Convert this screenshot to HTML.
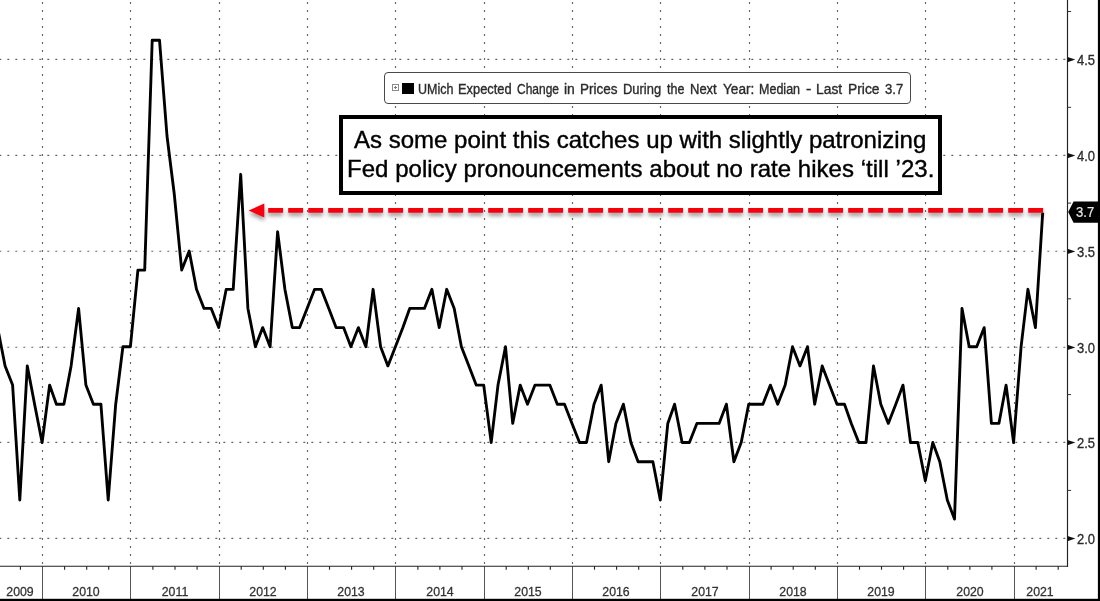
<!DOCTYPE html>
<html><head><meta charset="utf-8"><title>chart</title>
<style>
html,body{margin:0;padding:0;background:#fff;}
body{width:1100px;height:601px;position:relative;overflow:hidden;font-family:"Liberation Sans",sans-serif;}
.g{stroke:#666;stroke-width:1.15;stroke-dasharray:2,6;}
.xl{position:absolute;top:583.6px;width:60px;text-align:center;font-size:13.7px;color:#333;-webkit-text-stroke:0.3px #333;line-height:16px;transform:scaleX(0.9);}
.yl{position:absolute;left:1077px;font-size:14px;color:#2a2a2a;-webkit-text-stroke:0.3px #2a2a2a;line-height:16px;transform:scaleX(0.93);transform-origin:0 50%;}
#legend{position:absolute;left:384px;top:72px;width:527px;height:32px;border:1px solid #4a4a4a;border-radius:4px;background:#fff;box-sizing:border-box;}
#legend .t{position:absolute;left:33.2px;top:7px;font-size:13px;line-height:16px;color:#333;white-space:nowrap;transform-origin:0 50%;transform:scaleX(1.0487);}
#legend .w{position:absolute;top:9.2px;font-size:13.8px;line-height:16px;color:#2b2b2b;-webkit-text-stroke:0.35px #2b2b2b;white-space:nowrap;transform-origin:0 50%;}
#legend .sq{position:absolute;left:17.1px;top:9.6px;width:11.8px;height:11.4px;background:#000;}
#legend .pl{position:absolute;left:7.3px;top:11.4px;width:4.6px;height:4.6px;border:1px solid #8a8a8a;}
#legend .pl:before{content:"";position:absolute;left:0.8px;top:1.8px;width:3px;height:1px;background:#777;}
#legend .pl:after{content:"";position:absolute;left:1.8px;top:0.8px;width:1px;height:3px;background:#777;}
#ann{position:absolute;left:339.3px;top:114.9px;width:602.5px;height:79.7px;border:4.6px solid #000;box-sizing:border-box;background:#fff;}
#ann div{position:absolute;white-space:nowrap;will-change:transform;-webkit-text-stroke:0.4px #000;font-size:24px;line-height:28px;color:#000;}
#last{position:absolute;left:1076.2px;top:203.8px;font-size:14px;line-height:17px;color:#e6e6e6;-webkit-text-stroke:0.2px #e6e6e6;transform:scaleX(0.935);transform-origin:0 50%;}
</style></head><body>
<svg width="1100" height="601" viewBox="0 0 1100 601" style="position:absolute;left:0;top:0">
<defs><filter id="sh" x="-5%" y="-100%" width="110%" height="400%"><feGaussianBlur in="SourceAlpha" stdDeviation="1.9"/><feOffset dx="0.4" dy="3" result="b"/><feComponentTransfer><feFuncA type="linear" slope="0.42"/></feComponentTransfer><feMerge><feMergeNode/><feMergeNode in="SourceGraphic"/></feMerge></filter></defs>
<line x1="42.5" y1="2" x2="42.5" y2="566.2" class="g"/>
<line x1="130.5" y1="2" x2="130.5" y2="566.2" class="g"/>
<line x1="219.5" y1="2" x2="219.5" y2="566.2" class="g"/>
<line x1="307.5" y1="2" x2="307.5" y2="566.2" class="g"/>
<line x1="395.5" y1="2" x2="395.5" y2="566.2" class="g"/>
<line x1="484.5" y1="2" x2="484.5" y2="566.2" class="g"/>
<line x1="572.5" y1="2" x2="572.5" y2="566.2" class="g"/>
<line x1="660.5" y1="2" x2="660.5" y2="566.2" class="g"/>
<line x1="749.5" y1="2" x2="749.5" y2="566.2" class="g"/>
<line x1="837.5" y1="2" x2="837.5" y2="566.2" class="g"/>
<line x1="925.5" y1="2" x2="925.5" y2="566.2" class="g"/>
<line x1="1014.5" y1="2" x2="1014.5" y2="566.2" class="g"/>
<line x1="-0.7" y1="538.4" x2="1067.5" y2="538.4" class="g"/>
<line x1="-0.7" y1="442.4" x2="1067.5" y2="442.4" class="g"/>
<line x1="-0.7" y1="347.2" x2="1067.5" y2="347.2" class="g"/>
<line x1="-0.7" y1="251.2" x2="1067.5" y2="251.2" class="g"/>
<line x1="-0.7" y1="155.4" x2="1067.5" y2="155.4" class="g"/>
<line x1="-0.7" y1="59.4" x2="1067.5" y2="59.4" class="g"/>
<line x1="42.5" y1="566.2" x2="42.5" y2="599" stroke="#555" stroke-width="1"/>
<line x1="130.5" y1="566.2" x2="130.5" y2="599" stroke="#555" stroke-width="1"/>
<line x1="219.5" y1="566.2" x2="219.5" y2="599" stroke="#555" stroke-width="1"/>
<line x1="307.5" y1="566.2" x2="307.5" y2="599" stroke="#555" stroke-width="1"/>
<line x1="395.5" y1="566.2" x2="395.5" y2="599" stroke="#555" stroke-width="1"/>
<line x1="484.5" y1="566.2" x2="484.5" y2="599" stroke="#555" stroke-width="1"/>
<line x1="572.5" y1="566.2" x2="572.5" y2="599" stroke="#555" stroke-width="1"/>
<line x1="660.5" y1="566.2" x2="660.5" y2="599" stroke="#555" stroke-width="1"/>
<line x1="749.5" y1="566.2" x2="749.5" y2="599" stroke="#555" stroke-width="1"/>
<line x1="837.5" y1="566.2" x2="837.5" y2="599" stroke="#555" stroke-width="1"/>
<line x1="925.5" y1="566.2" x2="925.5" y2="599" stroke="#555" stroke-width="1"/>
<line x1="1014.5" y1="566.2" x2="1014.5" y2="599" stroke="#555" stroke-width="1"/>
<line x1="1067.5" y1="0" x2="1067.5" y2="566.75" stroke="#222" stroke-width="1.15"/>
<line x1="0" y1="566.2" x2="1068.05" y2="566.2" stroke="#222" stroke-width="1.15"/>
<line x1="20.4" y1="566.2" x2="20.4" y2="569.7" stroke="#222" stroke-width="1.1"/>
<line x1="64.6" y1="566.2" x2="64.6" y2="569.7" stroke="#222" stroke-width="1.1"/>
<line x1="86.7" y1="566.2" x2="86.7" y2="569.7" stroke="#222" stroke-width="1.1"/>
<line x1="108.7" y1="566.2" x2="108.7" y2="569.7" stroke="#222" stroke-width="1.1"/>
<line x1="152.9" y1="566.2" x2="152.9" y2="569.7" stroke="#222" stroke-width="1.1"/>
<line x1="175.0" y1="566.2" x2="175.0" y2="569.7" stroke="#222" stroke-width="1.1"/>
<line x1="197.1" y1="566.2" x2="197.1" y2="569.7" stroke="#222" stroke-width="1.1"/>
<line x1="241.2" y1="566.2" x2="241.2" y2="569.7" stroke="#222" stroke-width="1.1"/>
<line x1="263.3" y1="566.2" x2="263.3" y2="569.7" stroke="#222" stroke-width="1.1"/>
<line x1="285.4" y1="566.2" x2="285.4" y2="569.7" stroke="#222" stroke-width="1.1"/>
<line x1="329.5" y1="566.2" x2="329.5" y2="569.7" stroke="#222" stroke-width="1.1"/>
<line x1="351.6" y1="566.2" x2="351.6" y2="569.7" stroke="#222" stroke-width="1.1"/>
<line x1="373.7" y1="566.2" x2="373.7" y2="569.7" stroke="#222" stroke-width="1.1"/>
<line x1="417.9" y1="566.2" x2="417.9" y2="569.7" stroke="#222" stroke-width="1.1"/>
<line x1="439.9" y1="566.2" x2="439.9" y2="569.7" stroke="#222" stroke-width="1.1"/>
<line x1="462.0" y1="566.2" x2="462.0" y2="569.7" stroke="#222" stroke-width="1.1"/>
<line x1="506.2" y1="566.2" x2="506.2" y2="569.7" stroke="#222" stroke-width="1.1"/>
<line x1="528.3" y1="566.2" x2="528.3" y2="569.7" stroke="#222" stroke-width="1.1"/>
<line x1="550.3" y1="566.2" x2="550.3" y2="569.7" stroke="#222" stroke-width="1.1"/>
<line x1="594.5" y1="566.2" x2="594.5" y2="569.7" stroke="#222" stroke-width="1.1"/>
<line x1="616.6" y1="566.2" x2="616.6" y2="569.7" stroke="#222" stroke-width="1.1"/>
<line x1="638.7" y1="566.2" x2="638.7" y2="569.7" stroke="#222" stroke-width="1.1"/>
<line x1="682.8" y1="566.2" x2="682.8" y2="569.7" stroke="#222" stroke-width="1.1"/>
<line x1="704.9" y1="566.2" x2="704.9" y2="569.7" stroke="#222" stroke-width="1.1"/>
<line x1="727.0" y1="566.2" x2="727.0" y2="569.7" stroke="#222" stroke-width="1.1"/>
<line x1="771.1" y1="566.2" x2="771.1" y2="569.7" stroke="#222" stroke-width="1.1"/>
<line x1="793.2" y1="566.2" x2="793.2" y2="569.7" stroke="#222" stroke-width="1.1"/>
<line x1="815.3" y1="566.2" x2="815.3" y2="569.7" stroke="#222" stroke-width="1.1"/>
<line x1="859.5" y1="566.2" x2="859.5" y2="569.7" stroke="#222" stroke-width="1.1"/>
<line x1="881.5" y1="566.2" x2="881.5" y2="569.7" stroke="#222" stroke-width="1.1"/>
<line x1="903.6" y1="566.2" x2="903.6" y2="569.7" stroke="#222" stroke-width="1.1"/>
<line x1="947.8" y1="566.2" x2="947.8" y2="569.7" stroke="#222" stroke-width="1.1"/>
<line x1="969.9" y1="566.2" x2="969.9" y2="569.7" stroke="#222" stroke-width="1.1"/>
<line x1="991.9" y1="566.2" x2="991.9" y2="569.7" stroke="#222" stroke-width="1.1"/>
<line x1="1036.1" y1="566.2" x2="1036.1" y2="569.7" stroke="#222" stroke-width="1.1"/>
<line x1="1058.2" y1="566.2" x2="1058.2" y2="569.7" stroke="#222" stroke-width="1.1"/>
<path d="M1067.5,536.0 L1075.3,538.6 L1067.5,541.2 Z" fill="#111"/>
<path d="M1067.5,440.0 L1075.3,442.6 L1067.5,445.2 Z" fill="#111"/>
<path d="M1067.5,344.8 L1075.3,347.4 L1067.5,350.0 Z" fill="#111"/>
<path d="M1067.5,248.8 L1075.3,251.4 L1067.5,254.0 Z" fill="#111"/>
<path d="M1067.5,153.0 L1075.3,155.6 L1067.5,158.2 Z" fill="#111"/>
<path d="M1067.5,57.0 L1075.3,59.6 L1067.5,62.2 Z" fill="#111"/>
<line x1="1067.5" y1="490.4" x2="1071.1" y2="490.4" stroke="#333" stroke-width="1"/>
<line x1="1067.5" y1="394.6" x2="1071.1" y2="394.6" stroke="#333" stroke-width="1"/>
<line x1="1067.5" y1="298.8" x2="1071.1" y2="298.8" stroke="#333" stroke-width="1"/>
<line x1="1067.5" y1="203.1" x2="1071.1" y2="203.1" stroke="#333" stroke-width="1"/>
<line x1="1067.5" y1="107.3" x2="1071.1" y2="107.3" stroke="#333" stroke-width="1"/>
<line x1="1067.5" y1="11.5" x2="1071.1" y2="11.5" stroke="#333" stroke-width="1"/>
<polyline points="-9.7,385.1 -2.4,327.6 5.1,365.9 12.6,385.1 19.8,500.0 27.3,365.9 34.6,404.2 42.1,442.5 49.6,385.1 56.4,404.2 63.9,404.2 71.1,365.9 78.6,308.4 85.9,385.1 93.4,404.2 100.9,404.2 108.2,500.0 115.7,404.2 122.9,346.7 130.4,346.7 137.9,270.1 144.7,270.1 152.2,40.2 159.5,40.2 167.0,136.0 174.2,193.5 181.7,270.1 189.2,251.0 196.5,289.3 204.0,308.4 211.2,308.4 218.7,327.6 226.2,289.3 233.2,289.3 240.7,174.3 247.9,308.4 255.4,346.7 262.7,327.6 270.1,346.7 277.6,231.8 284.9,289.3 292.3,327.6 299.6,327.6 307.1,308.4 314.6,289.3 321.3,289.3 328.8,308.4 336.1,327.6 343.6,327.6 350.9,346.7 358.4,327.6 365.9,346.7 373.1,289.3 380.6,346.7 387.9,365.9 395.4,346.7 402.9,327.6 409.7,308.4 417.2,308.4 424.4,308.4 431.9,289.3 439.2,327.6 446.7,289.3 454.2,308.4 461.4,346.7 468.9,365.9 476.2,385.1 483.7,385.1 491.2,442.5 498.0,385.1 505.5,346.7 512.7,423.4 520.2,385.1 527.5,404.2 535.0,385.1 542.5,385.1 549.8,385.1 557.3,404.2 564.5,404.2 572.0,423.4 579.5,442.5 586.5,442.5 594.0,404.2 601.2,385.1 608.7,461.7 615.9,423.4 623.4,404.2 630.9,442.5 638.1,461.7 645.6,461.7 652.9,461.7 660.3,500.0 667.8,423.4 674.6,404.2 682.1,442.5 689.4,442.5 696.9,423.4 704.1,423.4 711.6,423.4 719.1,423.4 726.4,404.2 733.9,461.7 741.2,442.5 748.7,404.2 756.2,404.2 762.9,404.2 770.4,385.1 777.7,404.2 785.2,385.1 792.5,346.7 800.0,365.9 807.5,346.7 814.7,404.2 822.2,365.9 829.5,385.1 837.0,404.2 844.5,404.2 851.3,423.4 858.8,442.5 866.0,442.5 873.5,365.9 880.8,404.2 888.3,423.4 895.8,404.2 903.0,385.1 910.5,442.5 917.8,442.5 925.3,480.8 932.8,442.5 939.8,461.7 947.3,500.0 954.5,519.1 962.0,308.4 969.2,346.7 976.7,346.7 984.2,327.6 991.4,423.4 998.9,423.4 1006.1,385.1 1013.6,442.5 1021.1,346.7 1027.9,289.3 1035.4,327.6 1042.7,212.6" fill="none" stroke="#000" stroke-width="2.85" stroke-linejoin="round"/>
<g filter="url(#sh)"><line x1="268.2" y1="210.4" x2="1043.4" y2="210.4" stroke="#f6000e" stroke-width="4.8" stroke-dasharray="14.9,5.1"/>
<path d="M248.6,210.6 L264.3,203.6 L264.3,217.6 Z" fill="#f6000e"/></g>
<path d="M1068.2,211.9 L1073.6,201.4 L1098,201.4 L1098,222.8 L1073.6,222.8 Z" fill="#000"/>
<rect x="0" y="598.8" width="1100" height="3" fill="#000"/>
<rect x="1097.9" y="0" width="2.1" height="601" fill="#000"/>
</svg>
<div class="xl" style="left:-10.1px">2009</div>
<div class="xl" style="left:56.3px">2010</div>
<div class="xl" style="left:144.6px">2011</div>
<div class="xl" style="left:232.9px">2012</div>
<div class="xl" style="left:321.2px">2013</div>
<div class="xl" style="left:409.5px">2014</div>
<div class="xl" style="left:497.9px">2015</div>
<div class="xl" style="left:586.2px">2016</div>
<div class="xl" style="left:674.5px">2017</div>
<div class="xl" style="left:762.8px">2018</div>
<div class="xl" style="left:851.1px">2019</div>
<div class="xl" style="left:939.5px">2020</div>
<div class="xl" style="left:1009.5px">2021</div>
<div class="yl" style="top:531.1px">2.0</div>
<div class="yl" style="top:435.3px">2.5</div>
<div class="yl" style="top:339.5px">3.0</div>
<div class="yl" style="top:243.8px">3.5</div>
<div class="yl" style="top:148.0px">4.0</div>
<div class="yl" style="top:52.2px">4.5</div>
<div id="legend"><div class="pl"></div><div class="sq"></div><span class="w" style="left:33.10px;transform:scaleX(0.9051)">UMich</span><span class="w" style="left:72.97px;transform:scaleX(0.9319)">Expected</span><span class="w" style="left:131.70px;transform:scaleX(0.8691)">Change</span><span class="w" style="left:179.23px;transform:scaleX(1.0077)">in</span><span class="w" style="left:195.02px;transform:scaleX(0.9780)">Prices</span><span class="w" style="left:238.07px;transform:scaleX(0.9369)">During</span><span class="w" style="left:281.75px;transform:scaleX(0.9044)">the</span><span class="w" style="left:304.86px;transform:scaleX(0.9417)">Next</span><span class="w" style="left:337.59px;transform:scaleX(0.9872)">Year:</span><span class="w" style="left:373.80px;transform:scaleX(0.9075)">Median</span><span class="w" style="left:421.36px;transform:scaleX(1.1594)">-</span><span class="w" style="left:431.39px;transform:scaleX(1.0024)">Last</span><span class="w" style="left:462.59px;transform:scaleX(1.0010)">Price</span><span class="w" style="left:499.68px;transform:scaleX(0.9476)">3.7</span></div>
<div id="ann"><div id="a1" style="left:10.9px;top:7.1px">As some point this catches up with slightly patronizing</div><div id="a2" style="left:3.5px;top:35.7px;letter-spacing:0.03px">Fed policy pronouncements about no rate hikes &lsquo;till &rsquo;23.</div></div>
<div id="last">3.7</div>
</body></html>
